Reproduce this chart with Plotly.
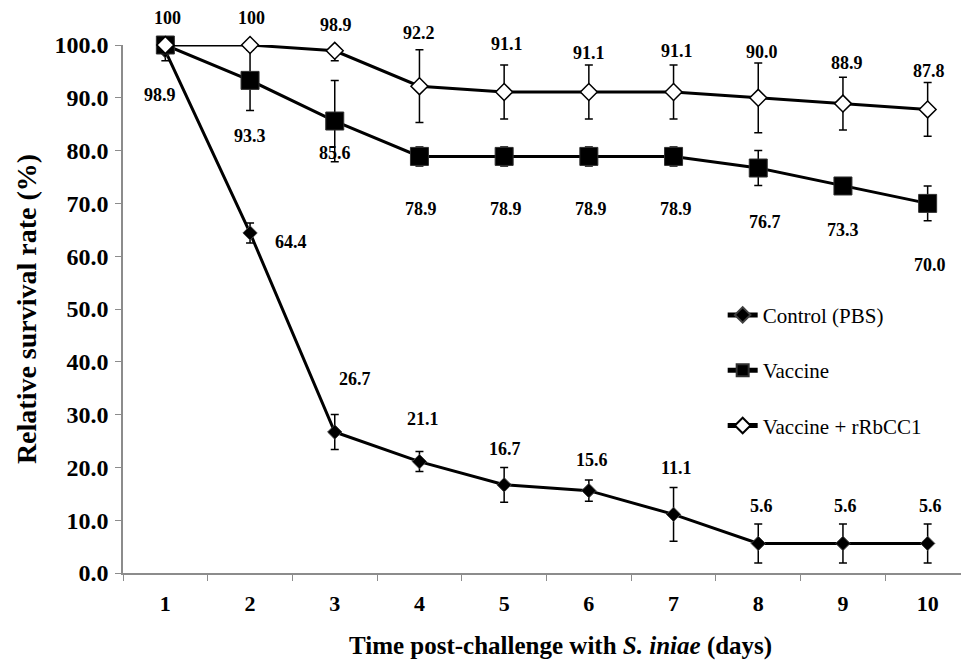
import plotly.graph_objects as go

days = ["1", "2", "3", "4", "5", "6", "7", "8", "9", "10"]

control = [98.9, 64.4, 26.7, 21.1, 16.7, 15.6, 11.1, 5.6, 5.6, 5.6]
control_err = [1.9, 1.9, 3.3, 1.9, 3.3, 2.0, 5.1, 3.7, 3.7, 3.7]

vaccine = [100, 93.3, 85.6, 78.9, 78.9, 78.9, 78.9, 76.7, 73.3, 70.0]
vaccine_err = [0, 5.7, 7.7, 1.8, 1.8, 1.8, 1.8, 3.3, 1.0, 3.3]

combo = [100, 100, 98.9, 92.2, 91.1, 91.1, 91.1, 90.0, 88.9, 87.8]
combo_err = [0, 0, 1.9, 6.9, 5.1, 5.1, 5.1, 6.6, 5.0, 5.1]

control_labels = ["98.9", "64.4", "26.7", "21.1", "16.7", "15.6", "11.1", "5.6", "5.6", "5.6"]
vaccine_labels = [None, "93.3", "85.6", "78.9", "78.9", "78.9", "78.9", "76.7", "73.3", "70.0"]
combo_labels = ["100", "100", "98.9", "92.2", "91.1", "91.1", "91.1", "90.0", "88.9", "87.8"]

# label offsets (pixels) relative to their points
control_off = [(-5, -44), (41, -9), (20, 53), (4, 43), (1, 36), (3, 31), (3, 46), (3, 37), (3, 37), (3, 37)]
vaccine_off = [(0, 0), (0, -56), (0, -32), (2, -53), (2, -53), (2, -53), (2, -53), (7, -54), (0, -44), (2, -62)]
combo_off = [(2, 27), (1, 27), (1, 26), (0, 53), (3, 48), (0, 39), (3, 41), (4, 46), (4, 41), (1, 38)]

FONT = "Liberation Serif"
GREY = "#8c8c8c"

fig = go.Figure()

fig.add_trace(go.Scatter(
    x=days, y=control, name="Control (PBS)", mode="lines+markers",
    line=dict(color="black", width=3),
    marker=dict(symbol="diamond", size=11, color="black", line=dict(color="#404040", width=1)),
    error_y=dict(type="data", array=control_err, visible=True, color="black", thickness=1.5, width=4),
    legendgroup="a", cliponaxis=False,
))
fig.add_trace(go.Scatter(
    x=days, y=vaccine, name="Vaccine", mode="lines+markers",
    line=dict(color="black", width=3),
    marker=dict(symbol="square", size=18, color="black", line=dict(color="#303030", width=1)),
    error_y=dict(type="data", array=vaccine_err, visible=True, color="black", thickness=1.5, width=4),
    legendgroup="b", cliponaxis=False,
))
fig.add_trace(go.Scatter(
    x=days, y=combo, name="Vaccine + rRbCC1", mode="lines+markers",
    line=dict(color="black", width=3),
    marker=dict(symbol="diamond", size=13, color="white", line=dict(color="black", width=1.5)),
    error_y=dict(type="data", array=combo_err, visible=True, color="black", thickness=1.5, width=4),
    legendgroup="c", cliponaxis=False,
))

annotations = []
for series, labels, offs in ((control, control_labels, control_off),
                             (vaccine, vaccine_labels, vaccine_off),
                             (combo, combo_labels, combo_off)):
    for i, (v, lab, (dx, dy)) in enumerate(zip(series, labels, offs)):
        if lab is None:
            continue
        annotations.append(dict(
            x=i, y=v, xref="x", yref="y", text=lab, showarrow=False,
            xshift=dx, yshift=dy,
            font=dict(family=FONT, size=18, color="black", weight="bold"),
        ))

annotations.append(dict(
    x=0.517, y=-0.138, xref="paper", yref="paper", xanchor="center", yanchor="middle",
    text="Time post-challenge with <i>S. iniae</i> (days)", showarrow=False,
    font=dict(family=FONT, size=25, color="black", weight="bold"),
))

fig.update_layout(
    width=969, height=661,
    margin=dict(l=115, r=7, t=37, b=96),
    paper_bgcolor="white", plot_bgcolor="white",
    font=dict(family=FONT, color="black"),
    showlegend=True,
    legend=dict(
        x=0.708, y=0.527, xanchor="left", yanchor="top",
        font=dict(family=FONT, size=21, color="black"),
        tracegroupgap=25, traceorder="grouped", itemsizing="constant",
        bgcolor="rgba(0,0,0,0)",
    ),
    annotations=annotations,
    xaxis=dict(
        type="category", categoryorder="array", categoryarray=days,
        range=[-0.5, 9.5],
        showline=True, linecolor=GREY, linewidth=1.5,
        ticks="outside", tickson="boundaries", ticklen=6, tickcolor=GREY, tickwidth=1,
        tickfont=dict(family=FONT, size=22, color="black", weight="bold"),
        ticklabelstandoff=10,
        showgrid=False, zeroline=False,
    ),
    yaxis=dict(
        range=[0, 100], dtick=10, tickformat=".1f",
        showline=True, linecolor=GREY, linewidth=1.5,
        ticks="outside", ticklen=6, tickcolor=GREY, tickwidth=1,
        tickfont=dict(family=FONT, size=24, color="black", weight="bold"),
        ticklabelstandoff=2,
        showgrid=False, zeroline=False,
        title=dict(text="Relative survival rate (%)",
                   font=dict(family=FONT, size=28, color="black", weight="bold"),
                   standoff=10),
    ),
)

fig.write_html("out.html")
